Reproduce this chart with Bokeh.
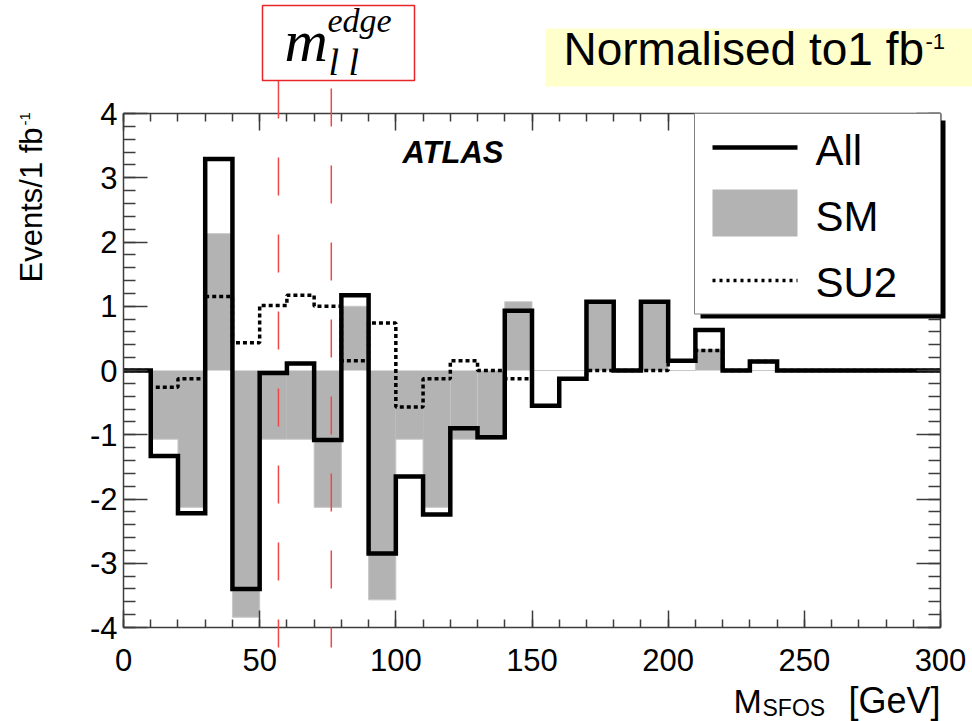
import math

from bokeh.plotting import figure
from bokeh.models import Range1d, LinearAxis, FixedTicker
from bokeh.core.properties import value
from bokeh.embed import file_html
from bokeh.resources import INLINE

# Same-flavour opposite-sign dilepton mass, 10 GeV bins from 0 to 300 GeV
bin_edges = list(range(0, 310, 10))

all_events = [0.00, -1.33, -2.22, 3.29, -3.40, -0.04, 0.11, -1.08, 1.17, -2.85,
              -1.65, -2.24, -0.90, -1.04, 0.93, -0.55, -0.13, 1.07, 0.00, 1.07,
              0.15, 0.63, 0.00, 0.14, 0.00, 0.00, 0.00, 0.00, 0.00, 0.00]
sm_events = [0.00, -1.07, -2.13, 2.13, -3.84, -1.07, -1.07, -2.13, 1.00, -3.57,
             -1.07, -2.13, -1.07, -1.07, 1.07, 0.00, 0.00, 1.07, 0.00, 1.07,
             0.00, 0.33, 0.00, 0.00, 0.00, 0.00, 0.00, 0.00, 0.00, 0.00]
su2_events = [0.00, -0.26, -0.13, 1.15, 0.43, 1.01, 1.17, 1.00, 0.15, 0.74,
              -0.57, -0.13, 0.15, 0.00, -0.13, -0.55, -0.13, 0.00, 0.00, 0.00,
              0.15, 0.31, 0.00, 0.14, 0.00, 0.00, 0.00, 0.00, 0.00, 0.00]

# Kinematic edge markers (GeV)
edge_positions = [56.9, 76.3]

x_ticks = [0, 50, 100, 150, 200, 250, 300]
x_minor = list(range(0, 310, 10))
y_ticks = [-4, -3, -2, -1, 0, 1, 2, 3, 4]
y_minor = [round(-4 + 0.2 * i, 1) for i in range(41)]

X_MIN, X_MAX = 0, 300
Y_MIN, Y_MAX = -4, 4

# Canvas geometry (pixels): plot frame inside a full-page canvas
W, H = 972, 721
FL, FR, FT, FB = 123, 940, 113, 627

SANS = "Liberation Sans"
SERIF = "Liberation Serif"
AXIS_GREY = "#3c3c3c"
SM_GREY = "#b3b3b3"

# the text glyph sits about this fraction of the font size above its anchor
BASELINE_SHIFT = 0.36


def cx(px):
    """Canvas x pixel -> data x."""
    return X_MIN + (px - FL) * (X_MAX - X_MIN) / (FR - FL)


def cy(py):
    """Canvas y pixel (from top) -> data y."""
    return Y_MAX - (py - FT) * (Y_MAX - Y_MIN) / (FB - FT)


p = figure(width=W, height=H,
           x_range=Range1d(X_MIN, X_MAX), y_range=Range1d(Y_MIN, Y_MAX),
           x_axis_location=None, y_axis_location=None,
           output_backend="svg", toolbar_location=None,
           min_border_left=FL, min_border_right=W - FR,
           min_border_top=FT, min_border_bottom=H - FB)
p.outline_line_color = None
p.background_fill_color = "white"
p.border_fill_color = "white"
for g in p.grid:
    g.visible = False


def make_axis(ticks, minor, major_len, minor_len, labelled):
    ax = LinearAxis(ticker=FixedTicker(ticks=ticks, minor_ticks=minor))
    ax.axis_line_color = AXIS_GREY
    ax.axis_line_width = 1.5
    ax.major_tick_line_color = AXIS_GREY
    ax.major_tick_line_width = 1.5
    ax.minor_tick_line_color = AXIS_GREY
    ax.minor_tick_line_width = 1.5
    ax.major_tick_in = major_len
    ax.major_tick_out = 0
    ax.minor_tick_in = minor_len
    ax.minor_tick_out = 0
    if labelled:
        ax.major_label_overrides = {t: str(t) for t in ticks}
        ax.major_label_text_font = SANS
        ax.major_label_text_font_size = "31px"
        ax.major_label_text_color = "black"
    else:
        ax.major_label_text_font_size = "0px"
        ax.major_label_text_color = None
        ax.major_label_standoff = 0
    return ax


x_bottom = make_axis(x_ticks, x_minor, 17, 8, True)
x_bottom.major_label_standoff = 21
x_top = make_axis(x_ticks, x_minor, 17, 8, False)
y_left = make_axis(y_ticks, y_minor, 24, 12, True)
y_left.major_label_standoff = 6
y_right = make_axis(y_ticks, y_minor, 24, 12, False)
p.add_layout(x_bottom, "below")
p.add_layout(x_top, "above")
p.add_layout(y_left, "left")
p.add_layout(y_right, "right")

lefts = bin_edges[:-1]
rights = bin_edges[1:]

# SM expectation: filled grey histogram with a faint outline
p.quad(left=lefts, right=rights, bottom=0, top=sm_events,
       fill_color=SM_GREY, line_color=None)
p.step(x=bin_edges, y=sm_events + [sm_events[-1]], mode="after",
       line_color="#c8c8c8", line_width=1)

# SU2 signal: dotted histogram
p.step(x=bin_edges, y=su2_events + [su2_events[-1]], mode="after",
       line_color="black", line_width=3.5, line_dash="4 3")

# All events: thick solid histogram
p.step(x=bin_edges, y=all_events + [all_events[-1]], mode="after",
       line_color="black", line_width=4.5, line_join="miter")


def put_text(px, py, text, size_px, font=SANS, style="normal", align="left",
             vertical=False):
    """Place text so that its baseline starts at canvas pixel (px, py)."""
    shift = BASELINE_SHIFT * size_px
    if vertical:
        ax_, ay_, angle = px - shift, py, math.pi / 2
    else:
        ax_, ay_, angle = px, py - shift, 0.0
    p.text(x=[cx(ax_)], y=[cy(ay_)], text=[text],
           text_font=value(font), text_font_size=value(f"{size_px}px"),
           text_font_style=style, text_align=align,
           text_baseline="alphabetic", text_color="black",
           angle=angle, level="overlay")


# ATLAS tag
put_text(402, 163, "ATLAS", 31, style="bold italic")

# Legend box with drop shadow
p.quad(left=cx(700), right=cx(945), top=cy(120), bottom=cy(318),
       fill_color="black", line_color=None, level="overlay")
p.quad(left=cx(694), right=cx(940), top=cy(113), bottom=cy(313.5),
       fill_color="white", line_color="#808080", line_width=1, level="overlay")
p.segment(x0=cx(712), x1=cx(797), y0=cy(147), y1=cy(147),
          line_color="black", line_width=4.5, level="overlay")
p.quad(left=cx(712), right=cx(797), top=cy(189), bottom=cy(236),
       fill_color=SM_GREY, line_color=None, level="overlay")
p.segment(x0=cx(712), x1=cx(797), y0=cy(280), y1=cy(280),
          line_color="black", line_width=3.5, line_dash="3 4", level="overlay")
for label, base in [("All", 165), ("SM", 231), ("SU2", 297)]:
    put_text(815, base, label, 42)

# Edge markers: dashed red verticals running from the label box to the axis
p.segment(x0=edge_positions, x1=edge_positions,
          y0=[cy(80), cy(88)], y1=[cy(647), cy(647)],
          line_color="#ef4848", line_width=1.5, line_dash="38 39",
          level="overlay")
p.quad(left=cx(262), right=cx(414), top=cy(5), bottom=cy(80),
       fill_color="white", line_color="#e8262a", line_width=1.5,
       level="overlay")
put_text(284, 62, "m", 60, font=SERIF, style="italic")
put_text(327, 32, "edge", 34, font=SERIF, style="italic")
put_text(328, 75, "l l", 38, font=SERIF, style="italic")

# Normalisation note on a pale yellow panel
p.quad(left=cx(545), right=cx(975), top=cy(28), bottom=cy(86),
       fill_color="#ffffcc", line_color=None, level="overlay")
put_text(563, 65, "Normalised to1 fb", 46)
put_text(925, 49, "-1", 22)

# Axis titles
put_text(940, 713, "[GeV]", 36, align="right")
put_text(733, 713, "M", 34)
put_text(762, 716, "SFOS", 23)
put_text(42, 282, "Events/1 fb", 31, vertical=True)
put_text(30, 125, "-1", 15, vertical=True)

open("out.html", "w").write(file_html(p, INLINE))
